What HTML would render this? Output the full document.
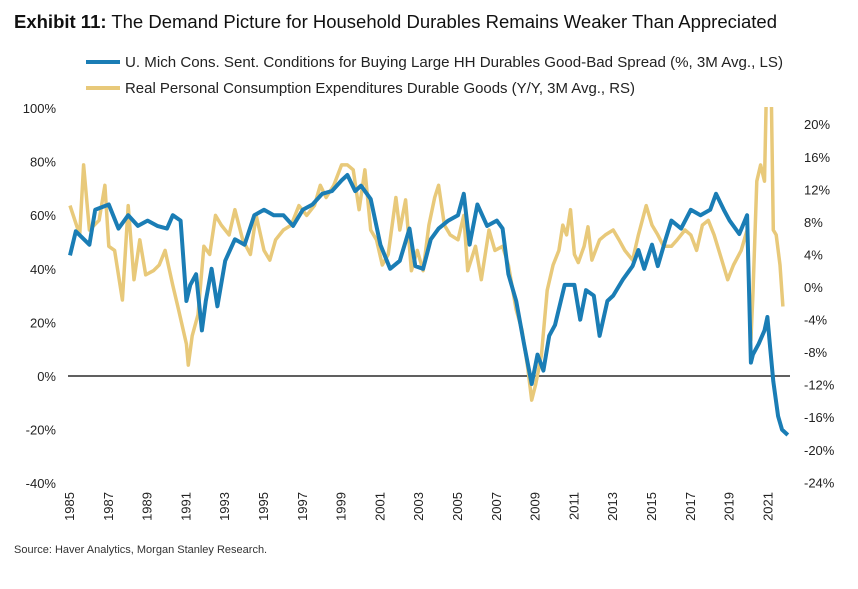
<!DOCTYPE html>
<html><head><meta charset="utf-8"><style>
body{margin:0;background:#fff;}
svg{display:block;font-family:"Liberation Sans",Arial,sans-serif;}
</style></head><body>
<svg id="chart" width="858" height="589" viewBox="0 0 858 589">
<text x="14" y="28" font-size="18.5" fill="#111"><tspan font-weight="bold">Exhibit 11:</tspan> The Demand Picture for Household Durables Remains Weaker Than Appreciated</text>
<line x1="86" y1="62" x2="120" y2="62" stroke="#1a7db5" stroke-width="4"/>
<text x="125" y="67" font-size="14.8" fill="#222" textLength="658" lengthAdjust="spacingAndGlyphs">U. Mich Cons. Sent. Conditions for Buying Large HH Durables Good-Bad Spread (%, 3M Avg., LS)</text>
<line x1="86" y1="88" x2="120" y2="88" stroke="#e8c97a" stroke-width="4"/>
<text x="125" y="93" font-size="14.8" fill="#222" textLength="510" lengthAdjust="spacingAndGlyphs">Real Personal Consumption Expenditures Durable Goods (Y/Y, 3M Avg., RS)</text>
<defs><clipPath id="plotclip"><rect x="60" y="107" width="740" height="390"/></clipPath></defs>
<g id="leftAxis"></g><g id="rightAxis"></g><g id="xAxis"></g>
<line x1="68" y1="376" x2="790" y2="376" stroke="#000" stroke-width="1.2"/>
<g id="series" clip-path="url(#plotclip)"></g>
<text x="14" y="553" font-size="11" fill="#333">Source: Haver Analytics, Morgan Stanley Research.</text>
</svg>
<script>
const leftTicks=[100,80,60,40,20,0,-20,-40];
const rightTicks=[20,16,12,8,4,0,-4,-8,-12,-16,-20,-24];
const xYears=[1985,1987,1989,1991,1993,1995,1997,1999,2001,2003,2005,2007,2009,2011,2013,2015,2017,2019,2021];
const umichX=[1985,1985.3,1986,1986.3,1987,1987.5,1988,1988.5,1989,1989.5,1990,1990.3,1990.7,1991,1991.2,1991.5,1991.8,1992,1992.3,1992.6,1993,1993.5,1994,1994.5,1995,1995.5,1996,1996.5,1997,1997.5,1998,1998.5,1999,1999.3,1999.7,2000,2000.5,2001,2001.5,2002,2002.5,2002.8,2003.2,2003.6,2004,2004.5,2005,2005.3,2005.6,2006,2006.5,2007,2007.3,2007.6,2008,2008.4,2008.8,2009.1,2009.4,2009.7,2010,2010.5,2011,2011.3,2011.6,2012,2012.3,2012.7,2013,2013.5,2014,2014.3,2014.6,2015,2015.3,2015.7,2016,2016.5,2017,2017.5,2018,2018.3,2018.7,2019,2019.5,2019.9,2020.1,2020.2,2020.5,2020.8,2020.95,2021.1,2021.25,2021.5,2021.7,2022];
const umichV=[45,54,49,62,64,55,60,56,58,56,55,60,58,28,34,38,17,28,40,26,43,51,49,60,62,60,60,56,62,64,68,69,73,75,69,71,66,49,40,43,55,41,40,51,55,58,60,68,49,64,56,58,55,38,28,12,-3,8,2,15,19,34,34,21,32,30,15,28,30,36,41,47,40,49,41,51,58,55,62,60,62,68,62,58,53,60,5,8,12,17,22,10,-2,-15,-20,-22];
const pceX=[1985,1985.5,1985.7,1986,1986.5,1986.8,1987,1987.3,1987.7,1988,1988.3,1988.6,1988.9,1989.3,1989.6,1989.9,1990.3,1990.6,1991,1991.1,1991.3,1991.6,1991.9,1992.2,1992.5,1992.8,1993.2,1993.5,1993.9,1994.3,1994.6,1995,1995.3,1995.6,1996,1996.4,1996.8,1997.2,1997.6,1997.9,1998.2,1998.6,1999,1999.3,1999.6,1999.9,2000.2,2000.5,2000.8,2001.1,2001.4,2001.8,2002,2002.3,2002.6,2002.9,2003.2,2003.5,2003.8,2004,2004.3,2004.6,2005,2005.3,2005.5,2005.9,2006.2,2006.6,2006.9,2007.3,2007.6,2008,2008.3,2008.6,2008.8,2009,2009.3,2009.6,2009.9,2010.2,2010.4,2010.6,2010.8,2011,2011.2,2011.5,2011.7,2011.9,2012.3,2012.6,2013,2013.3,2013.6,2014,2014.3,2014.7,2015,2015.3,2015.6,2016,2016.3,2016.7,2017,2017.3,2017.6,2017.9,2018.2,2018.6,2018.9,2019.2,2019.6,2019.9,2020.1,2020.2,2020.4,2020.6,2020.8,2020.95,2021.1,2021.25,2021.4,2021.6,2021.75,2021.85];
const pceV=[10,6.4,15,7,8.2,12.5,5,4.5,-1.6,10,0.9,5.8,1.5,2,2.7,4.5,0.2,-2.8,-7,-9.6,-6,-3.4,5,4,8.8,7.6,6.4,9.5,5.8,4,8.8,4.5,3.3,5.8,7,7.6,10,8.8,10,12.5,11,12.5,15,15,14.4,9.5,14.4,7,5.8,2.7,4,11,7,10.7,2,4.5,2,7.6,11,12.5,7.6,6.4,5.8,8.8,2,5,0.9,7,4.5,5,2.7,-2.8,-5.3,-10,-13.9,-12,-8.4,-0.4,2.7,4.5,7.6,6.4,9.5,4,3,5,7.4,3.3,5.8,6.4,7,5.8,4.5,3.3,6.4,10,7.6,6.4,5,5,5.8,7,6.4,4.5,7.6,8.2,6.4,3.3,0.9,2.7,4.5,7,-6.5,-1,13,15,13,30,32,7,6.4,2.7,-2.4];
const xS=y=>70+(y-1985)*19.4;
const yL=v=>376-v*2.68;
const yR=v=>287-v*8.14;
const NS="http://www.w3.org/2000/svg";
function mk(tag,attrs,parent){const e=document.createElementNS(NS,tag);for(const k in attrs)e.setAttribute(k,attrs[k]);parent.appendChild(e);return e;}
const la=document.getElementById('leftAxis'),ra=document.getElementById('rightAxis'),xa=document.getElementById('xAxis'),sg=document.getElementById('series');
leftTicks.forEach(v=>{const t=mk('text',{x:56,y:yL(v)+5,'text-anchor':'end','font-size':13,fill:'#222'},la);t.textContent=v+'%';

});
rightTicks.forEach(v=>{const t=mk('text',{x:804,y:yR(v)+5,'font-size':13,fill:'#222'},ra);t.textContent=v+'%';

});
xYears.forEach(yr=>{const x=xS(yr)+4;const t=mk('text',{x:x,y:492,'text-anchor':'end','font-size':13,fill:'#222',transform:`rotate(-90 ${x} 492)`},xa);t.textContent=yr;

});
function path(xs,vs,ys){return xs.map((x,i)=>(i?'L':'M')+xS(x).toFixed(1)+' '+ys(vs[i]).toFixed(1)).join(' ');}
const p1=mk('path',{d:path(pceX,pceV,yR),fill:'none',stroke:'#e8c97a','stroke-width':3.5,'stroke-linejoin':'round'},sg);


const p2=mk('path',{d:path(umichX,umichV,yL),fill:'none',stroke:'#1a7db5','stroke-width':4,'stroke-linejoin':'round'},sg);


</script>
</body></html>
